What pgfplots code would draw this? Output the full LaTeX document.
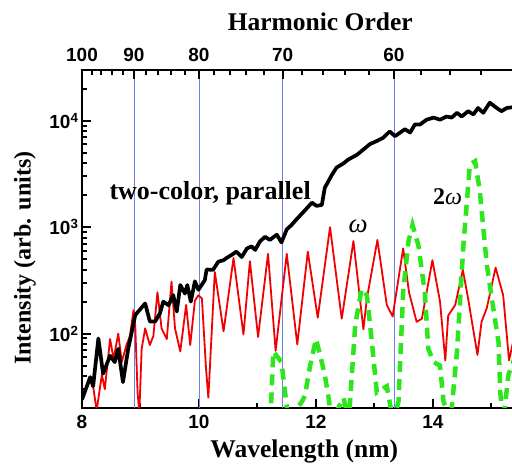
\documentclass[border=0pt]{standalone}
\usepackage{pgfplots}
\pgfplotsset{compat=1.18}
\usepackage{fontspec}
\setmainfont{Liberation Serif}
\setsansfont{Liberation Sans}
\definecolor{hgreen}{RGB}{45,230,30}
\definecolor{hblue}{RGB}{110,130,230}
\definecolor{hred}{RGB}{240,0,0}
\begin{document}
\begin{tikzpicture}
\begin{scope}
\clip (-82pt,-56pt) rectangle (430pt,408pt);
\begin{axis}[
  at={(0,0)}, anchor=south west,
  scale only axis, width=468pt, height=338pt,
  xmin=8, xmax=16, ymin=20, ymax=30000, ymode=log,
  axis line style={line width=2.5pt},
  xtick={8,10,12,14}, minor xtick={9,11,13,15},
  xtick pos=bottom, ytick pos=left,
  tick align=inside,
  major tick length=9pt, minor tick length=5pt,
  every tick/.style={black, line width=2pt},
  ytick={100,1000,10000},
  yticklabels={10\textsuperscript{2},10\textsuperscript{3},10\textsuperscript{4}},
  minor ytick={30,40,50,60,70,80,90,200,300,400,500,600,700,800,900,2000,3000,4000,5000,6000,7000,8000,9000,20000},
  /pgf/number format/assume math mode=true,
  tick label style={font=\fontsize{19}{19}\sffamily\bfseries},
  xticklabel style={yshift=-4pt},
  xlabel={Wavelength (nm)}, ylabel={Intensity (arb. units)},
  xlabel style={font=\fontsize{25.5}{25.5}\selectfont\bfseries, at={(axis description cs:0.475,-0.13)}, anchor=center},
  ylabel style={font=\fontsize{24}{24}\selectfont\bfseries, at={(axis description cs:-0.122,0.443)}, anchor=center},
  extra x ticks={8.8889,10,11.4286,13.3333},
  extra x tick labels={},
  extra x tick style={grid=major, major grid style={hblue, line width=0.9pt}, major tick length=0pt},
  clip=true,
]
\addplot[hred, line width=1.8pt, line join=round] coordinates {
(8.18,35) (8.25,19) (8.34,41) (8.39,30) (8.48,89) (8.54,58) (8.62,100) (8.68,54)
(8.76,78) (8.82,95) (8.88,166) (8.91,120) (8.95,28) (8.98,18) (9.02,72) (9.08,112)
(9.16,78) (9.22,95) (9.29,245) (9.36,112) (9.45,89) (9.53,309) (9.59,112) (9.68,68)
(9.78,186) (9.85,78) (9.93,204) (9.99,229) (10.05,214) (10.12,47) (10.16,25) (10.27,380)
(10.42,105) (10.59,513) (10.76,98) (10.87,479) (11.01,93) (11.18,562) (11.31,69)
(11.50,562) (11.68,79) (11.86,589) (12.03,141) (12.24,1000) (12.44,138) (12.64,741)
(12.81,110) (12.87,214) (13.05,759) (13.21,186) (13.31,145) (13.49,631) (13.59,245)
(13.72,129) (13.81,138) (13.99,490) (14.12,200) (14.21,56) (14.26,148) (14.38,186)
(14.51,398) (14.60,214) (14.76,63) (14.83,129) (14.92,174) (15.07,417) (15.20,229)
(15.30,56) (15.40,100)
};
\addplot[black, line width=3.7pt, line join=round] coordinates {
(8.00,24) (8.14,39) (8.19,32) (8.28,90) (8.36,42) (8.48,62) (8.56,54) (8.62,72)
(8.70,35) (8.79,72) (8.91,149) (8.96,161) (9.08,192) (9.16,130) (9.25,130) (9.33,154)
(9.39,200) (9.48,185) (9.56,230) (9.62,161) (9.68,286) (9.76,238) (9.80,286) (9.86,200)
(9.93,310) (9.99,258) (10.10,318) (10.13,400) (10.24,398) (10.33,474) (10.42,490)
(10.47,513) (10.56,550) (10.64,589) (10.73,525) (10.82,631) (10.90,661) (10.96,611)
(11.04,733) (11.13,813) (11.21,759) (11.33,851) (11.41,720) (11.50,955) (11.58,1047)
(11.67,1190) (11.78,1380) (11.93,1700) (12.01,1585) (12.10,1622) (12.15,2344)
(12.27,3090) (12.35,3630) (12.47,3980) (12.55,4315) (12.70,4790) (12.81,5370)
(12.92,6030) (13.04,6460) (13.15,6920) (13.26,7940) (13.35,7160) (13.44,7760)
(13.52,8320) (13.61,7760) (13.69,9230) (13.78,9230) (13.89,10230) (14.01,10720)
(14.12,10230) (14.23,10960) (14.32,10720) (14.41,11890) (14.49,10960) (14.60,12300)
(14.69,11480) (14.77,13180) (14.86,11890) (14.97,14790) (15.09,13180) (15.17,12300)
(15.26,13180) (15.40,13500)
};
\addplot[hgreen, line width=4.5pt, dash pattern=on 11pt off 7pt] coordinates {
(11.22,15) (11.27,68) (11.41,54) (11.53,15) (11.62,18) (11.76,23) (11.81,26) (11.90,50)
(12.00,89) (12.07,63) (12.15,41) (12.21,26) (12.27,15) (12.47,25) (12.56,15) (12.67,120)
(12.78,263) (12.87,229) (12.95,89) (13.04,28) (13.21,32) (13.32,15) (13.41,23) (13.49,245)
(13.58,733) (13.65,1050) (13.75,676) (13.86,245) (13.92,72) (14.01,54) (14.12,50)
(14.18,23) (14.30,15) (14.41,68) (14.52,676) (14.63,3890) (14.72,4170) (14.80,2190)
(14.92,442) (15.03,174) (15.12,83) (15.15,28) (15.20,15) (15.29,41) (15.40,60)
};
\node[font=\fontsize{26}{26}\selectfont\bfseries] at (axis cs:10.19,2100) {two-color, parallel};
\node[font=\fontsize{27}{27}\selectfont\itshape] at (axis cs:12.72,1020) {ω};
\node[font=\fontsize{24}{24}\selectfont] at (axis cs:14.25,1950) {\textbf{2}\textit{ω}};
\end{axis}
\begin{axis}[
  at={(0,0)}, anchor=south west,
  scale only axis, width=468pt, height=338pt,
  xmin=8, xmax=16, ymin=20, ymax=30000, ymode=log,
  axis x line*=top, axis y line=none,
  axis line style={line width=2.5pt},
  tick align=inside,
  major tick length=9pt, minor tick length=5pt,
  every tick/.style={black, line width=2pt},
  xtick={8,8.8889,10,11.4286,13.3333},
  xticklabels={100,90,80,70,60},
  minor xtick={8.1633,8.3333,8.5106,8.6957,9.0909,9.3023,9.5238,9.7561,10.2564,10.5263,10.8108,11.1111,11.7647,12.1212,12.5,12.9032,13.7931,14.2857,14.8148,15.3846},
  /pgf/number format/assume math mode=true,
  tick label style={font=\fontsize{19}{19}\sffamily\bfseries},
  xticklabel style={yshift=5pt},
  xlabel={Harmonic Order},
  label style={font=\fontsize{25.5}{25.5}\selectfont\bfseries},
  xlabel style={at={(axis description cs:0.509,1.142)}, anchor=center},
]
\end{axis}
\end{scope}
\pgfresetboundingbox
\path[use as bounding box] (-82pt,-56pt) rectangle (430pt,408pt);
\end{tikzpicture}
\end{document}
